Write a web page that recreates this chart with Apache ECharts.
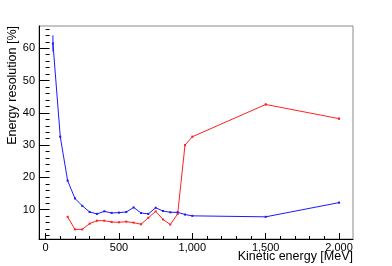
<!DOCTYPE html>
<html><head><meta charset="utf-8">
<script src="https://cdn.jsdelivr.net/npm/echarts@6/dist/echarts.min.js"></script>
<style>html,body{margin:0;padding:0;background:#fff}#c{width:392px;height:266px}</style>
</head><body><div id="c"></div>
<script>
var blueX = [50,100,150,200,250,300,350,400,450,500,550,600,650,700,750,800,850,900,950,1000,1500,2000];
var blueY = [61.5,32.6,19.0,13.5,11.2,9.3,8.7,9.5,9.0,9.1,9.3,10.7,9.0,8.7,10.6,9.6,9.2,9.2,8.5,8.1,7.8,12.2];
var blueErr = [2.5,0.3,0.2,0.2,0.1,0.1,0.1,0.1,0.1,0.1,0.1,0.1,0.1,0.1,0.1,0.1,0.1,0.1,0.1,0.1,0.1,0.2];
var redX = [150,200,250,300,350,400,450,500,550,600,650,700,750,800,850,900,950,1000,1500,2000];
var redY = [7.8,3.9,3.9,5.7,6.6,6.6,6.2,6.1,6.3,6.0,5.5,7.5,9.5,7.0,5.4,8.7,30.0,32.6,42.6,38.2];
var redErr = [0.2,0.1,0.1,0.1,0.1,0.1,0.1,0.1,0.1,0.1,0.1,0.1,0.1,0.1,0.1,0.1,0.3,0.3,0.4,0.4];
var xTicks = [0,500,1000,1500,2000];
var yTicks = [10,20,30,40,50,60];
var xMinor = []; for (var i = 0; i <= 2000; i += 100) xMinor.push(i);
var yMinor = []; for (var j = 2; j <= 66; j += 2) yMinor.push(j);
var X_MIN = -45, X_MAX = 2095, Y_MIN = 0.93, Y_MAX = 66.9;
var FONT = 'Liberation Sans';

function pairs(xs, ys){ return xs.map(function(x,i){ return [x, ys[i]]; }); }
function errData(xs, ys, es){ return xs.map(function(x,i){ return [x, ys[i]-es[i], ys[i]+es[i]]; }); }
function errSeries(xs, ys, es, color){
  return {
    type:'custom', xAxisIndex:0, yAxisIndex:0, silent:true, z:4,
    data: errData(xs, ys, es),
    renderItem: function(params, api){
      var lo = api.coord([api.value(0), api.value(1)]);
      var hi = api.coord([api.value(0), api.value(2)]);
      return {type:'line', shape:{x1:lo[0], y1:lo[1], x2:hi[0], y2:hi[1]}, style:{stroke:color, lineWidth:1}};
    }
  };
}
var chart = echarts.init(document.getElementById('c'), null, {renderer:'canvas'});
var baseX = {type:'value', min:X_MIN, max:X_MAX, splitLine:{show:false}};
var baseY = {type:'value', min:Y_MIN, max:Y_MAX, splitLine:{show:false}};
chart.setOption({
  animation:false,
  backgroundColor:'#fff',
  grid:{left:39, top:26, right:39, bottom:27, show:true, borderColor:'#8a8a8a', borderWidth:1, backgroundColor:'transparent'},
  xAxis:[
    Object.assign({}, baseX, {
      axisLine:{show:true, onZero:false, lineStyle:{color:'#000', width:1}},
      axisTick:{show:true, inside:true, length:6, customValues:xTicks, lineStyle:{color:'#000'}},
      axisLabel:{show:true, customValues:xTicks, margin:3, color:'#000', fontFamily:FONT, fontSize:11}
    }),
    Object.assign({}, baseX, {
      position:'bottom',
      axisLine:{show:false},
      axisTick:{show:true, inside:true, length:3, customValues:xMinor, lineStyle:{color:'#000'}},
      axisLabel:{show:false}
    })
  ],
  yAxis:[
    Object.assign({}, baseY, {
      axisLine:{show:true, onZero:false, lineStyle:{color:'#000', width:1}},
      axisTick:{show:true, inside:true, length:7, customValues:yTicks, lineStyle:{color:'#000'}},
      axisLabel:{show:true, customValues:yTicks, margin:4, color:'#000', fontFamily:FONT, fontSize:11}
    }),
    Object.assign({}, baseY, {
      position:'left',
      axisLine:{show:false},
      axisTick:{show:true, inside:true, length:4, customValues:yMinor, lineStyle:{color:'#000'}},
      axisLabel:{show:false}
    })
  ],
  series:[
    {type:'line', data:pairs(blueX, blueY), xAxisIndex:0, yAxisIndex:0, symbol:'rect', symbolSize:2, showSymbol:true,
     lineStyle:{color:'#1a1aff', width:1}, itemStyle:{color:'#1a1aff'}, z:3},
    {type:'line', data:pairs(redX, redY), xAxisIndex:0, yAxisIndex:0, symbol:'rect', symbolSize:2, showSymbol:true,
     lineStyle:{color:'#ff2020', width:1}, itemStyle:{color:'#ff2020'}, z:3},
    errSeries(blueX, blueY, blueErr, '#1a1aff'),
    errSeries(redX, redY, redErr, '#ff2020')
  ],
  graphic:[
    {type:'text', x:353, y:257, style:{text:'Kinetic energy [MeV]', fill:'#000', font:'12.5px "Liberation Sans"', textAlign:'right', textVerticalAlign:'middle'}},
    {type:'text', x:12.5, y:26, rotation:Math.PI/2, style:{text:'Energy resolution [%]', fill:'#000', font:'12.5px "Liberation Sans"', textAlign:'right', textVerticalAlign:'middle'}}
  ]
});
</script></body></html>
